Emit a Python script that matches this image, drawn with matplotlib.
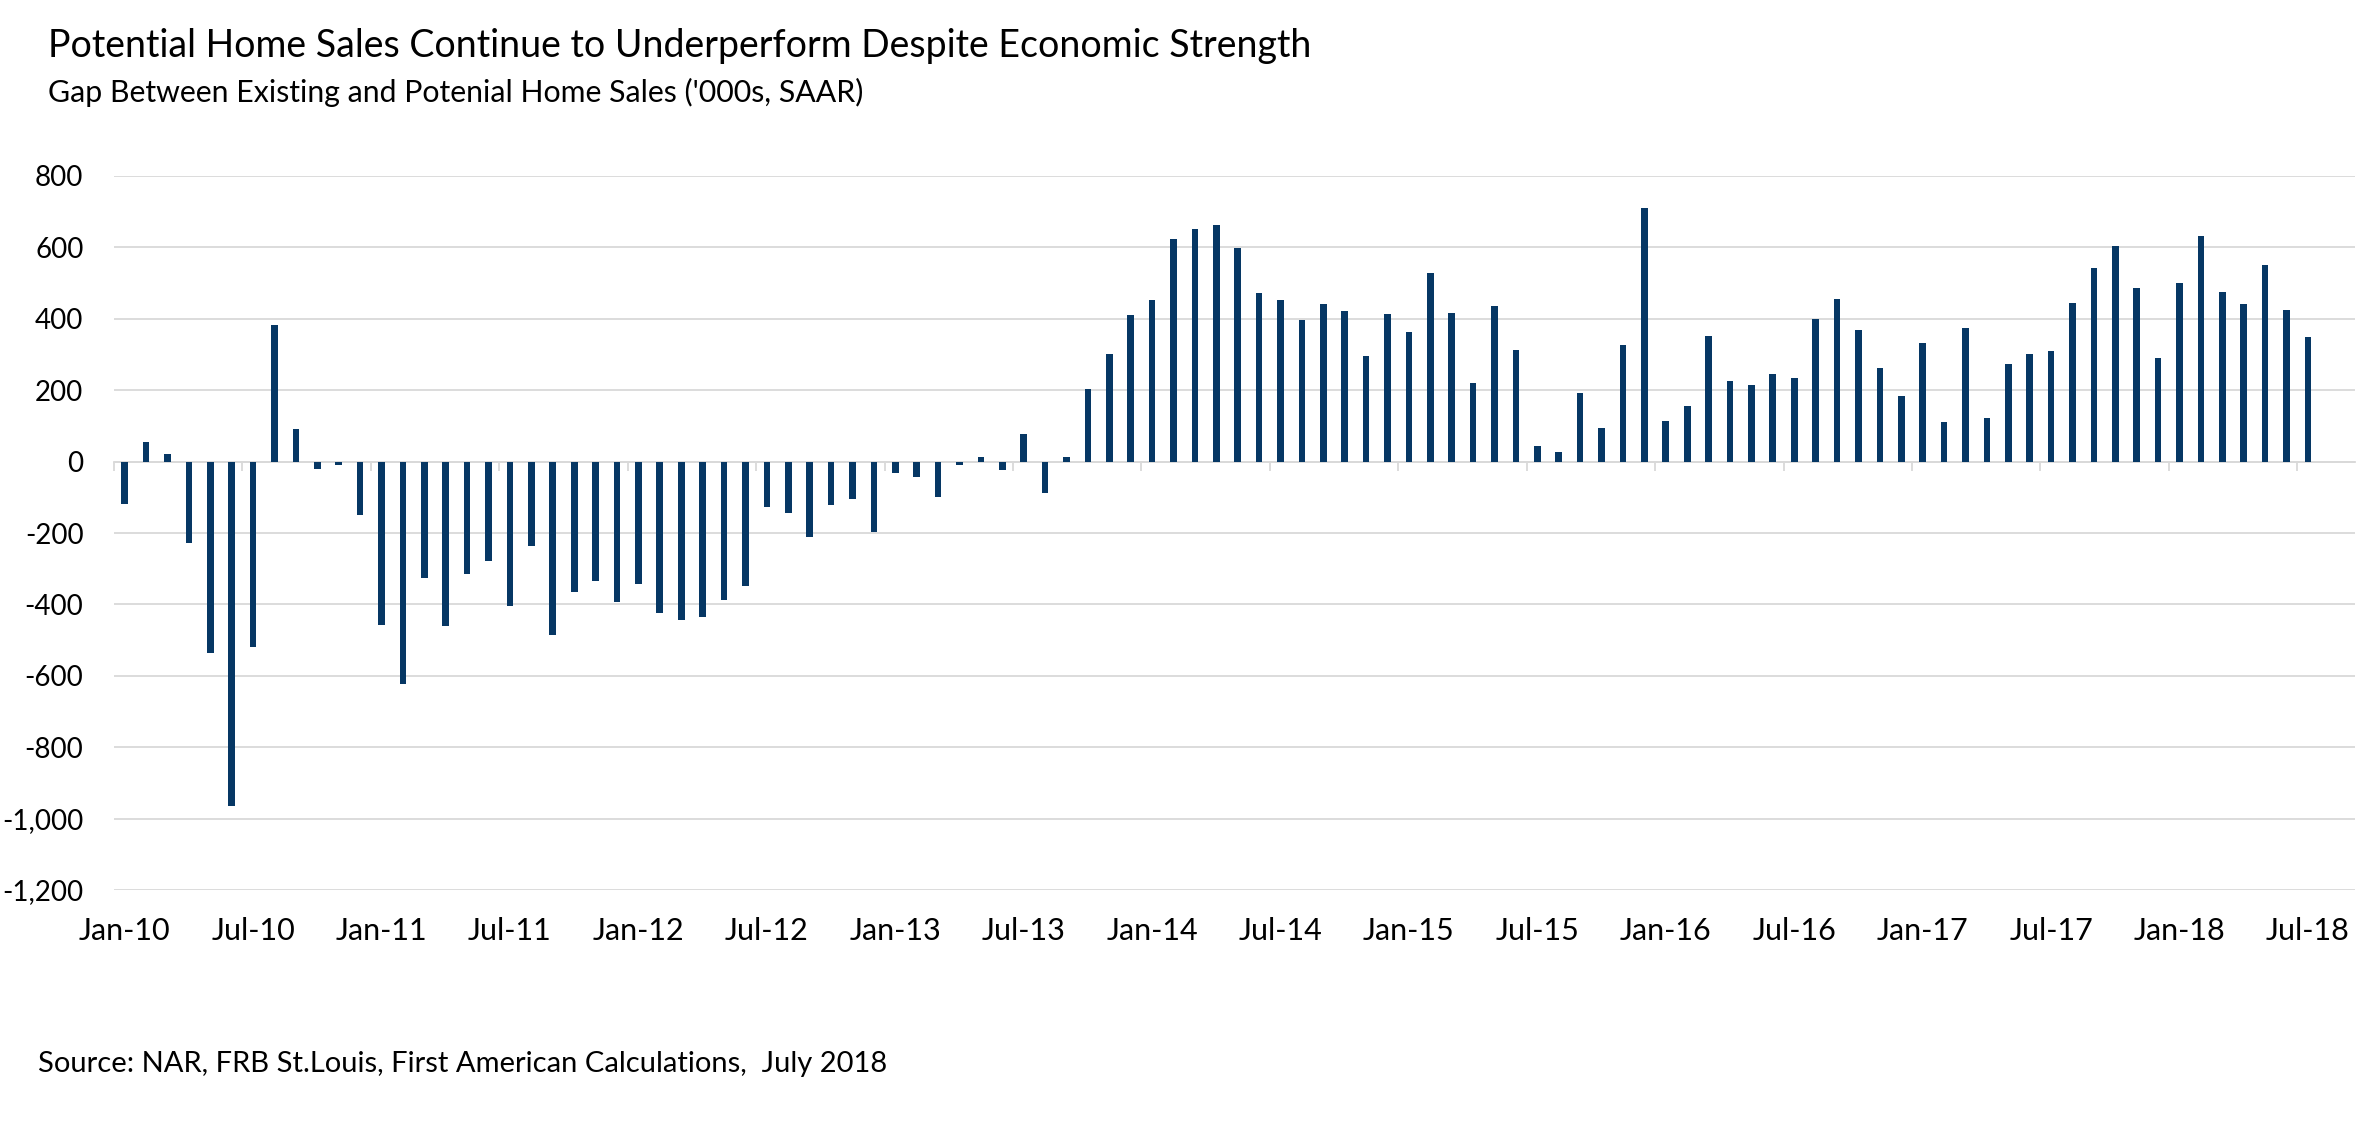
import matplotlib
matplotlib.use("Agg")
import matplotlib.pyplot as plt
from matplotlib.ticker import FuncFormatter, FixedLocator

plt.rcParams['font.family'] = ['Lato', 'DejaVu Sans']

# monthly gap, Jan-10 .. Jul-18 ('000s, SAAR)
gap = [
    -119, 56, 20, -228, -537, -964, -520, 382, 90, -21, -9, -150,        # 2010
    -459, -624, -326, -461, -316, -278, -405, -237, -487, -366, -335, -394,  # 2011
    -344, -423, -445, -434, -389, -349, -127, -144, -212, -122, -105, -197,  # 2012
    -31, -43, -99, -9, 13, -24, 76, -88, 13, 203, 301, 411,               # 2013
    453, 624, 652, 663, 597, 473, 453, 396, 441, 423, 296, 414,           # 2014
    364, 529, 416, 219, 436, 312, 45, 26, 192, 94, 326, 711,              # 2015
    113, 155, 352, 226, 214, 245, 234, 400, 455, 369, 262, 183,           # 2016
    332, 110, 375, 122, 272, 301, 310, 445, 543, 604, 487, 290,           # 2017
    500, 633, 475, 441, 552, 425, 349,                                     # 2018
]
tick_labels = ['Jan-10', 'Jul-10', 'Jan-11', 'Jul-11', 'Jan-12', 'Jul-12',
               'Jan-13', 'Jul-13', 'Jan-14', 'Jul-14', 'Jan-15', 'Jul-15',
               'Jan-16', 'Jul-16', 'Jan-17', 'Jul-17', 'Jan-18', 'Jul-18']
y_ticks = [800, 600, 400, 200, 0, -200, -400, -600, -800, -1000, -1200]

navy = '#063764'
grid = '#d9d9d9'

W, H = 2361, 1121
fig = plt.figure(figsize=(W / 100, H / 100), dpi=100)
# axes in pixels: left 114, right 2355, top 176, bottom 890
ax = fig.add_axes([114 / W, 1 - 890 / H, (2355 - 114) / W, (890 - 176) / H])

x = list(range(len(gap)))
ax.bar(x, gap, width=0.31, color=navy, zorder=3)

ax.set_ylim(-1200, 800)
ax.set_xlim(-0.5, 104.2)
ax.set_yticks(y_ticks)
ax.yaxis.set_major_formatter(FuncFormatter(lambda v, p: f"{v:,.0f}"))
ax.grid(axis='y', color=grid, linewidth=1.3, zorder=0)
ax.tick_params(axis='y', length=0, labelsize=20, pad=22, colors='#000000')

# labels centred on the Jan / Jul bars, small ticks on the category boundaries
ax.set_xticks(x[::6])
ax.set_xticklabels(tick_labels)
ax.tick_params(axis='x', length=0, labelsize=22, pad=0)
ax.xaxis.set_minor_locator(FixedLocator([i - 0.5 for i in x[::6]]))
ax.tick_params(axis='x', which='minor', length=6.5, width=1.3, color=grid)

# x axis line sits at zero
ax.spines['bottom'].set_position(('data', 0))
ax.spines['bottom'].set_color(grid)
ax.spines['bottom'].set_linewidth(1.3)
ax.spines['bottom'].set_zorder(2)
for s in ['top', 'right', 'left']:
    ax.spines[s].set_visible(False)

# but the month labels stay under the plot
for lab in ax.get_xticklabels():
    lab.set_transform(ax.get_xaxis_transform())
    lab.set_y(-0.070)
    lab.set_va('baseline')

fig.text(48 / W, 1 - 57 / H, 'Potential Home Sales Continue to Underperform Despite Economic Strength',
         fontsize=27, ha='left', va='baseline')
fig.text(48 / W, 1 - 102 / H, "Gap Between Existing and Potenial Home Sales ('000s, SAAR)",
         fontsize=21.8, ha='left', va='baseline')
fig.text(38 / W, 1 - 1072 / H, 'Source: NAR, FRB St.Louis, First American Calculations,  July 2018',
         fontsize=21, ha='left', va='baseline')

fig.savefig('out.png', dpi=100, facecolor='white')
